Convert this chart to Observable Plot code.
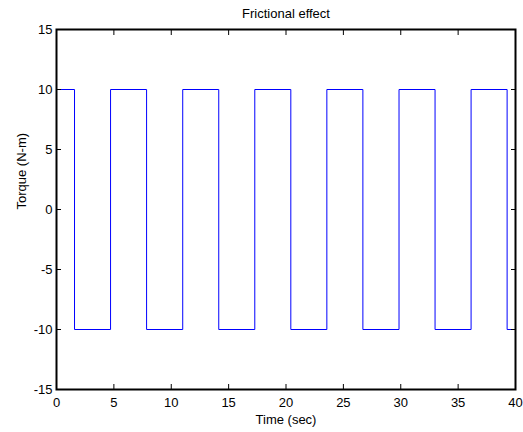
<!DOCTYPE html>
<html>
<head>
<meta charset="utf-8">
<script src="https://cdn.jsdelivr.net/npm/d3@7"></script>
<script src="https://cdn.jsdelivr.net/npm/@observablehq/plot@0.6"></script>
<style>
  html, body { margin: 0; padding: 0; background: #fff; }
</style>
</head>
<body>
<div id="chart"></div>
<script>
const titleText = "Frictional effect";
const xLabel = "Time (sec)";
const yLabel = "Torque (N-m)";
const xTicks = [0, 5, 10, 15, 20, 25, 30, 35, 40];
const yTicks = [-15, -10, -5, 0, 5, 10, 15];
const switchTimes = [0, 1.57, 4.71, 7.85, 11.00, 14.14, 17.28, 20.42, 23.56, 26.70, 29.85, 32.99, 36.13, 39.27, 40];
const torqueLevels = [10, -10, 10, -10, 10, -10, 10, -10, 10, -10, 10, -10, 10, -10, -10];

const data = switchTimes.map((t, i) => ({t, v: torqueLevels[i]}));
const fmt = d => String(d);

const chart = Plot.plot({
  width: 523,
  height: 432,
  marginLeft: 56,
  marginRight: 8,
  marginTop: 29,
  marginBottom: 43,
  style: {fontFamily: "'Liberation Sans', Arial, sans-serif", fontSize: "13px", background: "#fff", color: "#000"},
  x: {domain: [0, 40]},
  y: {domain: [-15, 15]},
  marks: [
    Plot.line(data, {x: "t", y: "v", curve: "step-after", stroke: "#0000ff", strokeWidth: 1}),
    Plot.axisX({anchor: "bottom", ticks: xTicks, tickSize: -5, tickPadding: 13, tickFormat: fmt, label: null}),
    Plot.axisX({anchor: "top", ticks: xTicks, tickSize: -5, tickFormat: () => "", label: null}),
    Plot.axisY({anchor: "left", ticks: yTicks, tickSize: -5, tickPadding: 9, tickFormat: fmt, label: null}),
    Plot.axisY({anchor: "right", ticks: yTicks, tickSize: -5, tickFormat: () => "", label: null}),
    Plot.frame({stroke: "#000", strokeWidth: 2}),
    Plot.text([titleText], {frameAnchor: "top", dy: -12, lineAnchor: "bottom", fill: "#000"}),
    Plot.text([xLabel], {frameAnchor: "bottom", dy: 34, lineAnchor: "bottom", fill: "#000"}),
    Plot.text([yLabel], {frameAnchor: "left", dx: -35, rotate: -90, fill: "#000"})
  ]
});
document.getElementById("chart").appendChild(chart);
</script>
</body>
</html>
